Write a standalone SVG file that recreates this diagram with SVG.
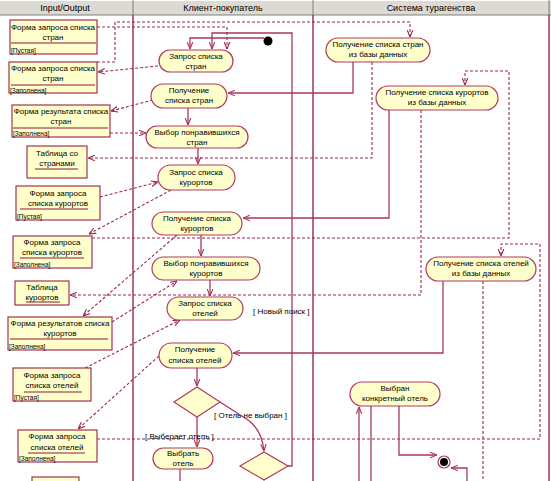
<svg xmlns="http://www.w3.org/2000/svg" width="551" height="481" viewBox="0 0 551 481">
<style>
text{font-family:"Liberation Sans",Arial,sans-serif;font-size:8px;fill:#000}
.hd{font-size:9px;text-anchor:middle}
.c{text-anchor:middle}
.st{font-size:6.5px}
.node{fill:#ffffcc;stroke:#b03a62;stroke-width:1.2}
.obj{fill:#ffffcc;stroke:#9c1f48;stroke-width:1.1}
.ul{stroke:#8c1a40;stroke-width:1.2}
.lane{stroke:#8c1c40;stroke-width:1.3;fill:none}
.sol{fill:none;stroke:#a8385e;stroke-width:1.3}
.das{fill:none;stroke:#99284f;stroke-width:1.1;stroke-dasharray:3 2}
</style>
<defs>
<marker id="a" viewBox="0 0 10 10" refX="10" refY="5" markerWidth="7" markerHeight="7" orient="auto" markerUnits="userSpaceOnUse"><path d="M0,1 L10,5 L0,9" fill="none" stroke="#a8385e" stroke-width="1.6"/></marker>
<marker id="d" viewBox="0 0 10 10" refX="10" refY="5" markerWidth="7" markerHeight="7" orient="auto" markerUnits="userSpaceOnUse"><path d="M0,1 L10,5 L0,9" fill="none" stroke="#99284f" stroke-width="1.6"/></marker>
</defs>
<rect width="551" height="481" fill="#ffffff"/>
<g id="header">
<rect x="0" y="0" width="551" height="15" fill="#dcdad3"/>
<line x1="0" y1="15" x2="551" y2="15" stroke="#808080"/>
<line x1="0" y1="0.5" x2="551" y2="0.5" stroke="#ffffff"/>
<line x1="133" y1="0" x2="133" y2="15" stroke="#808080"/>
<line x1="313" y1="0" x2="313" y2="15" stroke="#808080"/>
<line x1="549" y1="0" x2="549" y2="15" stroke="#808080"/>
<text class="hd" x="65" y="11">Input/Output</text>
<text class="hd" x="223" y="11">Клиент-покупатель</text>
<text class="hd" x="431" y="11">Система турагенства</text>
</g>
<g id="lanes">
<line class="lane" x1="133" y1="15" x2="133" y2="481"/>
<line class="lane" x1="313" y1="15" x2="313" y2="481"/>
<line class="lane" x1="549" y1="15" x2="549" y2="481"/>
</g>
<g id="connectors">
<path class="sol" d="M264,38 H190 V49" marker-end="url(#a)"/>
<path class="sol" d="M288,466 H292 V33 H212 V49" marker-end="url(#a)"/>
<path class="sol" d="M353,62 V93 H228" marker-end="url(#a)"/>
<path class="sol" d="M188,108 V125" marker-end="url(#a)"/>
<path class="sol" d="M198,148 V164" marker-end="url(#a)"/>
<path class="sol" d="M389,110 V218 H243" marker-end="url(#a)"/>
<path class="sol" d="M201,235 V256" marker-end="url(#a)"/>
<path class="sol" d="M210,280 V296" marker-end="url(#a)"/>
<path class="sol" d="M443,281 V353 H233" marker-end="url(#a)"/>
<path class="sol" d="M197,368 V386" marker-end="url(#a)"/>
<path class="sol" d="M197,417 V447" marker-end="url(#a)"/>
<path class="sol" d="M220,402 L248,420 Q262,430 264,451" marker-end="url(#a)"/>
<path class="sol" d="M180,469 V481"/>
<path class="sol" d="M359,481 V407" marker-end="url(#a)"/>
<path class="sol" d="M371,406 V481"/>
<path class="sol" d="M399,406 V455 H437" marker-end="url(#a)"/>
<path class="sol" d="M467,481 V468 H451" marker-end="url(#a)"/>
<path class="das" d="M97,62 H115 V22 H410 V37" marker-end="url(#d)"/>
<path class="das" d="M97,27 H227 V49" marker-end="url(#d)"/>
<path class="das" d="M158,66 L98,72" marker-end="url(#d)"/>
<path class="das" d="M153,100 L111,111" marker-end="url(#d)"/>
<path class="das" d="M110,133 H146" marker-end="url(#d)"/>
<path class="das" d="M372,62 V158 H88" marker-end="url(#d)"/>
<path class="das" d="M100,197 L158,182" marker-end="url(#d)"/>
<path class="das" d="M171,190 L89,234" marker-end="url(#d)"/>
<path class="das" d="M92,238 H509 V71 H465 V85" marker-end="url(#d)"/>
<path class="das" d="M421,110 V295 H70" marker-end="url(#d)"/>
<path class="das" d="M177,235 L83,316" marker-end="url(#d)"/>
<path class="das" d="M112,322 L177,281" marker-end="url(#d)"/>
<path class="das" d="M85,368 L180,320" marker-end="url(#d)"/>
<path class="das" d="M170,346 L78,429" marker-end="url(#d)"/>
<path class="das" d="M97,439 H540 V244 H501 V256" marker-end="url(#d)"/>
<path class="das" d="M483,281 V481"/>
<text x="253" y="314">[ Новый поиск ]</text>
<text x="214" y="418">[ Отель не выбран ]</text>
<text x="145" y="439">[ Выберает отель ]</text>
</g>
<g id="start"><circle cx="268" cy="41" r="4.5" fill="#000"/></g>
<g id="end"><circle cx="444" cy="462" r="6" fill="#fff" stroke="#a8385e" stroke-width="1.2"/><circle cx="444" cy="462" r="4" fill="#000"/></g>
<g id="n1"><rect class="node" x="159" y="50" width="74" height="22" rx="11"/><text class="c" x="196" y="59">Запрос списка</text><text class="c" x="196" y="69">стран</text></g>
<g id="n2"><rect class="node" x="151" y="84" width="76" height="24" rx="12"/><text class="c" x="189" y="93">Получение</text><text class="c" x="189" y="103">списка стран</text></g>
<g id="n3"><rect class="node" x="146" y="126" width="102" height="22" rx="11"/><text class="c" x="197" y="135">Выбор понравившихся</text><text class="c" x="197" y="145">стран</text></g>
<g id="n4"><rect class="node" x="158" y="165" width="77" height="25" rx="12.5"/><text class="c" x="196" y="175">Запрос списка</text><text class="c" x="196" y="185">курортов</text></g>
<g id="n5"><rect class="node" x="152" y="212" width="90" height="23" rx="11.5"/><text class="c" x="197" y="221">Получение списка</text><text class="c" x="197" y="231">курортов</text></g>
<g id="n6"><rect class="node" x="152" y="257" width="108" height="23" rx="11.5"/><text class="c" x="206" y="266">Выбор понравившихся</text><text class="c" x="206" y="276">курортов</text></g>
<g id="n7"><rect class="node" x="167" y="297" width="76" height="23" rx="11.5"/><text class="c" x="205" y="306">Запрос списка</text><text class="c" x="205" y="316">отелей</text></g>
<g id="n8"><rect class="node" x="159" y="343" width="73" height="25" rx="12.5"/><text class="c" x="195" y="352">Получение</text><text class="c" x="195" y="363">списка отелей</text></g>
<g id="n9"><rect class="node" x="153" y="448" width="60" height="21" rx="10.5"/><text class="c" x="183" y="456">Выбрать</text><text class="c" x="183" y="466">отель</text></g>
<g id="d1"><polygon points="174,402 197,387 220,402 197,417" fill="#ffffcc" stroke="#b03a62" stroke-width="1.2"/></g>
<g id="d2"><polygon points="240,466 264,452 288,466 264,480" fill="#ffffcc" stroke="#b03a62" stroke-width="1.2"/></g>
<g id="s1"><rect class="node" x="326" y="38" width="104" height="24" rx="12"/><text class="c" x="378" y="47">Получение списка стран</text><text class="c" x="378" y="57">из базы данных</text></g>
<g id="s2"><rect class="node" x="376" y="86" width="122" height="24" rx="12"/><text class="c" x="437" y="95">Получение списка курортов</text><text class="c" x="437" y="105">из базы данных</text></g>
<g id="s3"><rect class="node" x="426" y="257" width="110" height="24" rx="12"/><text class="c" x="481" y="266">Получение списка отелей</text><text class="c" x="481" y="276">из базы данных</text></g>
<g id="s4"><rect class="node" x="350" y="382" width="90" height="24" rx="12"/><text class="c" x="395" y="391">Выбран</text><text class="c" x="395" y="401">конкретный отель</text></g>
<g id="o1"><rect class="obj" x="10" y="20" width="87" height="34"/><text class="c" x="53" y="30">Форма запроса списка</text><text class="c" x="53" y="40">стран</text><line class="ul" x1="11" y1="43" x2="96" y2="43"/><text class="st" x="11" y="53">[Пустая]</text></g>
<g id="o2"><rect class="obj" x="9" y="62" width="88" height="31"/><text class="c" x="53" y="71">Форма запроса списка</text><text class="c" x="53" y="81">стран</text><line class="ul" x1="11" y1="85" x2="95" y2="85"/><text class="st" x="10" y="93">[Заполнена]</text></g>
<g id="o3"><rect class="obj" x="12" y="105" width="98" height="32"/><text class="c" x="61" y="114">Форма результата списка</text><text class="c" x="61" y="124">стран</text><line class="ul" x1="13" y1="128" x2="108" y2="128"/><text class="st" x="13" y="136">[Заполнена]</text></g>
<g id="o4"><rect class="obj" x="27" y="146" width="60" height="32"/><text class="c" x="57" y="156">Таблица со</text><text class="c" x="57" y="166">странами</text><line class="ul" x1="35" y1="169" x2="78" y2="169"/></g>
<g id="o5"><rect class="obj" x="16" y="186" width="84" height="34"/><text class="c" x="58" y="196">Форма запроса</text><text class="c" x="58" y="206">списка курортов</text><line class="ul" x1="20" y1="209" x2="88" y2="209"/><text class="st" x="17" y="219">[Пустая]</text></g>
<g id="o6"><rect class="obj" x="13" y="236" width="79" height="32"/><text class="c" x="52" y="245">Форма запроса</text><text class="c" x="52" y="255">списка курортов</text><line class="ul" x1="20" y1="258" x2="84" y2="258"/><text class="st" x="14" y="267">[Заполнена]</text></g>
<g id="o7"><rect class="obj" x="15" y="281" width="54" height="24"/><text class="c" x="42" y="290">Таблица</text><text class="c" x="42" y="300">курортов</text><line class="ul" x1="26" y1="302" x2="60" y2="302"/></g>
<g id="o8"><rect class="obj" x="8" y="317" width="104" height="33"/><text class="c" x="60" y="326">Форма результатов списка</text><text class="c" x="60" y="336">курортов</text><line class="ul" x1="10" y1="339" x2="108" y2="339"/><text class="st" x="9" y="349">[Заполнена]</text></g>
<g id="o9"><rect class="obj" x="13" y="368" width="78" height="33"/><text class="c" x="52" y="378">Форма запроса</text><text class="c" x="52" y="388">списка отелей</text><line class="ul" x1="24" y1="392" x2="82" y2="392"/><text class="st" x="14" y="400">[Пустая]</text></g>
<g id="o10"><rect class="obj" x="18" y="430" width="79" height="32"/><text class="c" x="57" y="439">Форма запроса</text><text class="c" x="57" y="450">списка отелей</text><line class="ul" x1="28" y1="453" x2="85" y2="453"/><text class="st" x="19" y="461">[Заполнена]</text></g>
<g id="o11"><rect class="obj" x="32" y="477" width="47" height="10"/></g>
</svg>
